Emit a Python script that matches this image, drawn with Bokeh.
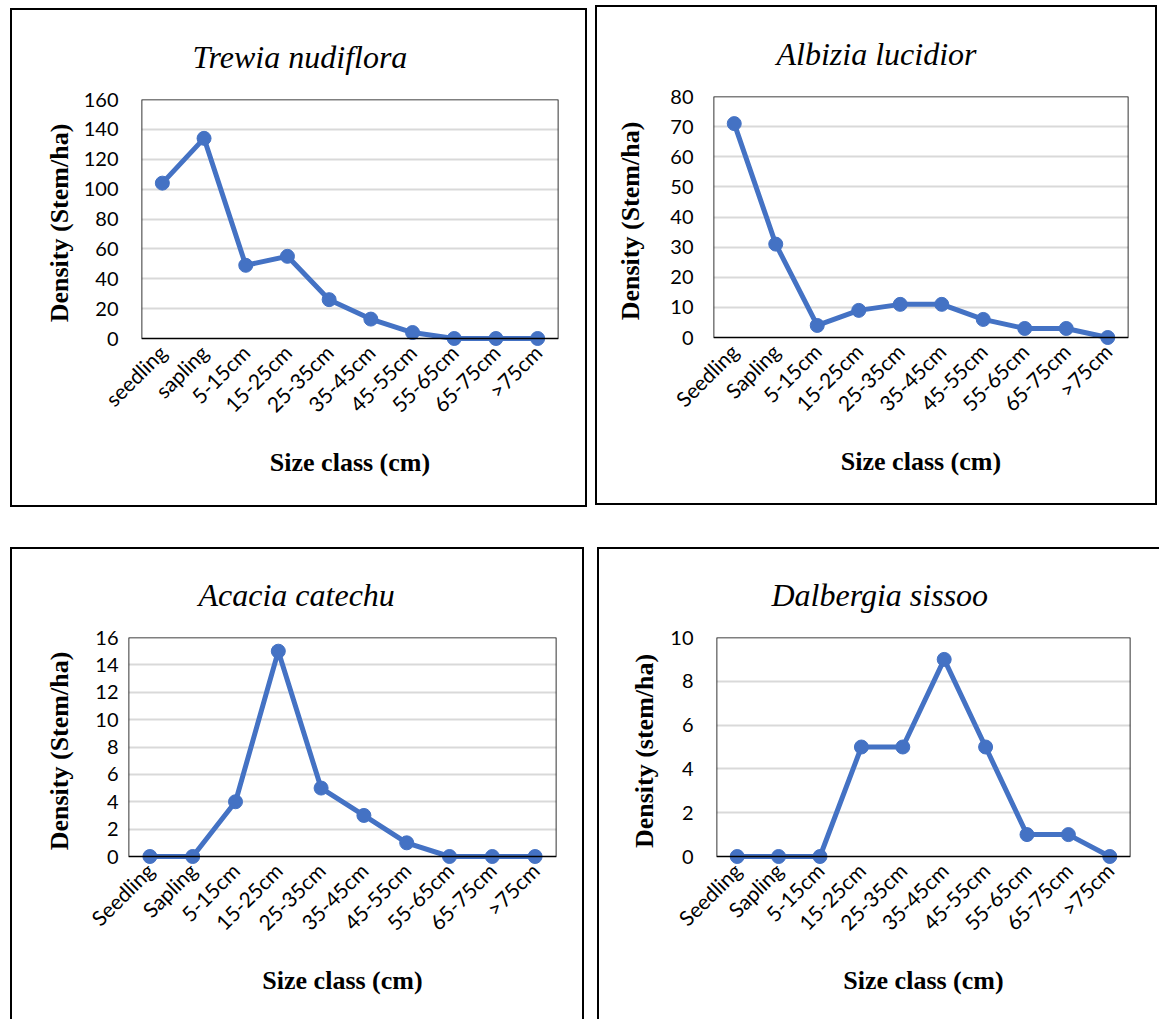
import math
from bokeh.plotting import figure
from bokeh.models import BoxAnnotation, FactorRange, Range1d, FixedTicker, Spacer
from bokeh.layouts import column, row
from bokeh.embed import file_html
from bokeh.resources import INLINE

# ---- data ----
classes_lower = ["seedling", "sapling", "5-15cm", "15-25cm", "25-35cm", "35-45cm",
                 "45-55cm", "55-65cm", "65-75cm", ">75cm"]
classes = ["Seedling", "Sapling", "5-15cm", "15-25cm", "25-35cm", "35-45cm",
           "45-55cm", "55-65cm", "65-75cm", ">75cm"]
trewia = [104, 134, 49, 55, 26, 13, 4, 0, 0, 0]
albizia = [71, 31, 4, 9, 11, 11, 6, 3, 3, 0]
acacia = [0, 0, 4, 15, 5, 3, 1, 0, 0, 0]
dalbergia = [0, 0, 0, 5, 5, 9, 5, 1, 1, 0]

titles = ["Trewia nudiflora", "Albizia lucidior", "Acacia catechu", "Dalbergia sissoo"]
ylabels = ["Density (Stem/ha)", "Density (Stem/ha)", "Density (Stem/ha)", "Density (stem/ha)"]
xlabel = "Size class (cm)"

BLUE = "#4472C4"
PAD = 8

FULL_BOX = "inset 2px 0 0 0 #000, inset -2px 0 0 0 #000, inset 0 2px 0 0 #000, inset 0 -2px 0 0 #000"
OPEN_BOTTOM = "inset 2px 0 0 0 #000, inset -2px 0 0 0 #000, inset 0 2px 0 0 #000"
LEFT_TOP = "inset 2px 0 0 0 #000, inset 0 2px 0 0 #000"


def panel(cats, vals, ymax, ystep, title, ylabel, w, h, frame, title_offset,
          ylab_standoff, yaxis_label_standoff, xlab_standoff, shadow):
    fl, fr, ft, fb = frame
    fb_act = fb + PAD
    pad_u = PAD * ymax / (fb - ft)
    p = figure(width=w, height=h, x_range=FactorRange(*cats),
               y_range=Range1d(-pad_u, ymax), output_backend="svg",
               toolbar_location=None, min_border_left=fl, min_border_right=w - fr,
               min_border_top=ft, min_border_bottom=h - fb_act)
    p.outline_line_color = None
    p.background_fill_color = "white"
    p.border_fill_alpha = 0
    p.styles = {"box-shadow": shadow, "background-color": "white"}

    p.title.text = title
    p.title.align = "left"
    p.title.offset = title_offset
    p.title.standoff = 50
    p.title.text_font = "Liberation Serif"
    p.title.text_font_style = "italic"
    p.title.text_font_size = "32px"
    p.title.text_color = "black"

    p.xgrid.grid_line_color = None
    ticks = list(range(0, ymax + 1, ystep))
    p.yaxis.ticker = FixedTicker(ticks=ticks)
    p.ygrid.ticker = FixedTicker(ticks=ticks[1:-1])
    p.ygrid.grid_line_color = "#D9D9D9"
    p.ygrid.grid_line_width = 2

    xax = p.below[0]
    yax = p.left[0]
    for ax in (xax, yax):
        ax.axis_line_color = None
        ax.major_tick_line_color = None
        ax.minor_tick_line_color = None
        ax.major_tick_out = 0
        ax.major_tick_in = 0
        ax.major_label_text_font = "Lato"
        ax.major_label_text_font_size = "20px"
        ax.major_label_text_color = "black"
        ax.axis_label_text_font = "Liberation Serif"
        ax.axis_label_text_font_style = "bold"
        ax.axis_label_text_font_size = "26px"
        ax.axis_label_text_color = "black"
    xax.major_label_text_font_size = "21px"

    yax.axis_label = ylabel
    yax.major_label_standoff = ylab_standoff
    yax.axis_label_standoff = yaxis_label_standoff
    xax.axis_label = xlabel
    xax.major_label_orientation = math.pi / 4
    xax.major_label_standoff = 2
    xax.axis_label_standoff = xlab_standoff

    # visual plot-area frame (0 .. ymax)
    p.add_layout(BoxAnnotation(bottom=0, top=ymax, fill_alpha=0, fill_color=None,
                               line_color="black", line_alpha=1, line_width=1.6))

    p.line(cats, vals, line_color=BLUE, line_width=5)
    p.scatter(cats, vals, size=14, fill_color=BLUE, line_color=BLUE)
    return p


# panel boxes: p1 (10,8)-(587,507); p2 (595,5)-(1157,505); p3 (10,547)-(584,..); p4 (597,547)-(..)
p1 = panel(classes_lower, trewia, 160, 20, titles[0], ylabels[0], 577, 499,
           (131, 548, 91, 330), 51, 23, 7, 20, FULL_BOX)
p2 = panel(classes, albizia, 80, 10, titles[1], ylabels[1], 562, 500,
           (118, 533, 91, 332), 63, 20, 22, 20, FULL_BOX)
p3 = panel(classes, acacia, 16, 2, titles[2], ylabels[2], 574, 472,
           (118, 546, 90, 309), 70, 10, 18, 20, OPEN_BOTTOM)
p4 = panel(classes, dalbergia, 10, 2, titles[3], ylabels[3], 562, 472,
           (119, 533, 90, 309), 55, 23, 8, 20, LEFT_TOP)

top = row(Spacer(width=10), column(Spacer(height=8), p1), Spacer(width=8),
          column(Spacer(height=5), p2))
bottom = row(Spacer(width=10), p3, Spacer(width=13), p4)
layout = column(top, Spacer(height=40), bottom)
open("out.html", "w").write(file_html(layout, INLINE))
